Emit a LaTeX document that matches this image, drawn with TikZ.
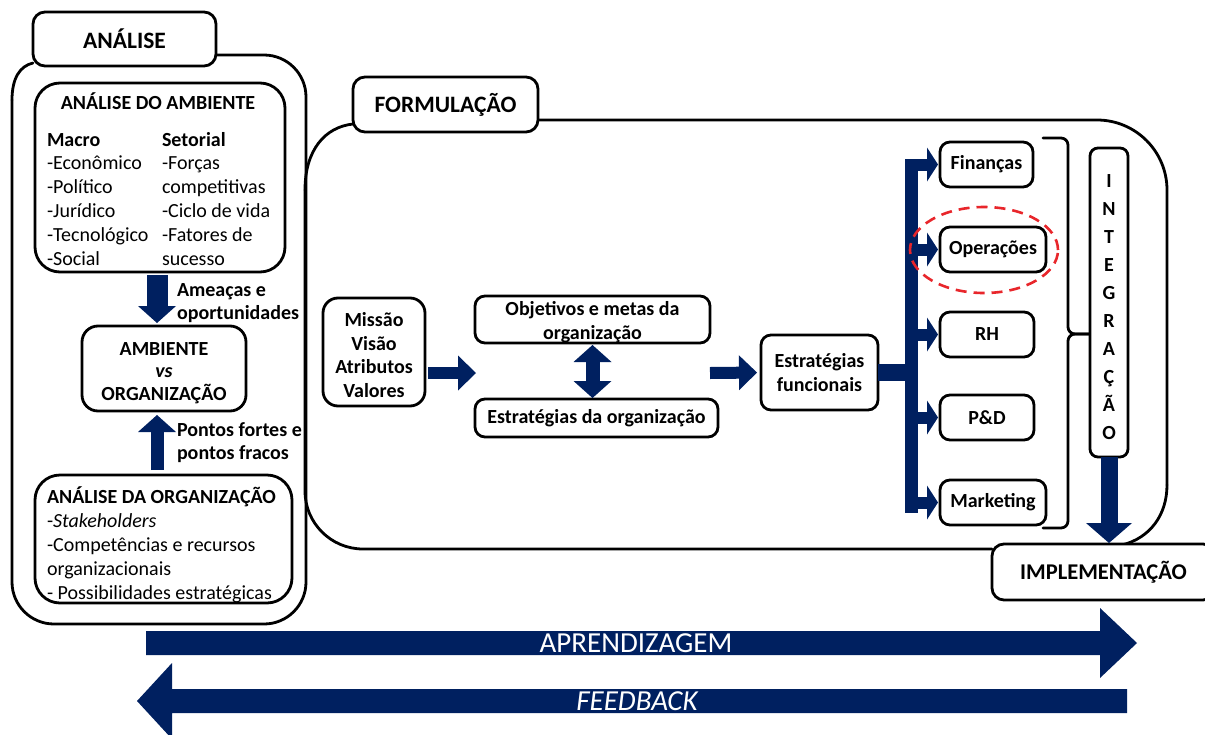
\documentclass[tikz,border=0pt]{standalone}
\usepackage{fontspec}
\setmainfont{Carlito}
\usetikzlibrary{arrows.meta,calc}
\definecolor{navy}{HTML}{002060}
\definecolor{dashred}{HTML}{E8262B}
\newcommand{\tstrut}{\rule{0pt}{16pt}}
\begin{document}
\begin{tikzpicture}[x=1pt,y=-1pt,
  every node/.style={inner sep=0pt, outer sep=0pt},
  frame/.style={line width=2.8pt, line cap=round, line join=round},
  box/.style={draw, fill=white, line width=2.8pt, rounded corners=10pt, align=center,
    font=\bfseries\fontsize{20}{23.5}\selectfont},
  tab/.style={box, rounded corners=12pt, font=\bfseries\fontsize{23.5}{26}\selectfont},
  txt/.style={anchor=north west, align=left, font=\fontsize{20}{23.8}\selectfont},
  btxt/.style={anchor=north west, align=left, font=\bfseries\fontsize{20}{23}\selectfont},
  fatdown/.style={draw=navy, line width=21pt, -{Triangle[width=38pt,length=17pt,line width=0pt]}},
  thinup/.style={draw=navy, line width=13pt, -{Triangle[width=38pt,length=17pt,line width=0pt]}},
  harr/.style={draw=navy, line width=12pt, -{Triangle[width=35pt,length=18pt,line width=0pt]}},
  darr/.style={draw=navy, line width=14pt, {Triangle[width=38pt,length=17pt,line width=0pt]}-{Triangle[width=38pt,length=17pt,line width=0pt]}},
  stub/.style={draw=navy, line width=12pt, -{Triangle[width=34pt,length=11pt,line width=0pt]}},
  iarr/.style={draw=navy, line width=17pt, -{Triangle[width=46pt,length=20pt,line width=0pt]}},
  big/.style={font=\fontsize{29}{30}\selectfont, text=white}
]
\clip (0,0) rectangle (1205,734);
\useasboundingbox (0,0) rectangle (1205,734);

% ---------- containers ----------
\draw[frame, rounded corners=42pt] (216,55) -| (306,624) -| (12,100);
\draw[frame] (12,100) .. controls (12,78) and (20,66) .. (33,63);

\draw[frame, rounded corners=58pt] (992,549) -| (305,190);
\draw[frame] (305,190) .. controls (305,150) and (325,127) .. (353,124);
\draw[frame, rounded corners=70pt] (538,120) -| (1167,485);
\draw[frame] (1167,485) .. controls (1167,515) and (1150,538) .. (1122,545);

% ---------- tabs ----------
\node[tab, minimum width=183, minimum height=54] (tabA) at (124.5,39) {ANÁLISE};
\node[tab, minimum width=185, minimum height=55] (tabF) at (445.5,104.5) {FORMULAÇÃO};
\node[tab, font=\bfseries\fontsize{22.5}{26}\selectfont, minimum width=223, minimum height=56] (impl) at (1103.5,572) {IMPLEMENTAÇÃO};

% ---------- análise ----------
\node[box, rounded corners=25pt, minimum width=250, minimum height=189] (amb) at (160,177.5) {};
\node[anchor=base, font=\bfseries\fontsize{20}{23}\selectfont] (ambt) at (158,109) {ANÁLISE DO AMBIENTE};
\node[txt] (macro) at (47,130) {\tstrut\textbf{Macro}\\-Econômico\\-Político\\-Jurídico\\-Tecnológico\\-Social};
\node[txt] (setor) at (162,130) {\tstrut\textbf{Setorial}\\-Forças\\competitivas\\-Ciclo de vida\\-Fatores de\\sucesso};

\node[box, rounded corners=16pt, minimum width=164, minimum height=85, font=\bfseries\fontsize{20}{22.5}\selectfont] (vs) at (164,368.5) {\rule{0pt}{22pt}AMBIENTE\\\textit{vs}\\ORGANIZAÇÃO};

\node[box, rounded corners=25pt, minimum width=257, minimum height=128] (org) at (163.5,539) {};
\node[txt, font=\fontsize{20}{24}\selectfont] (orgt) at (47,487) {\tstrut\textbf{ANÁLISE DA ORGANIZAÇÃO}\\-\textit{Stakeholders}\\-Competências e recursos\\organizacionais\\- Possibilidades estratégicas};

\coordinate (ax) at (157,0);
\draw[fatdown, shorten <=3pt, shorten >=3pt] (ax |- amb.south) -- (ax |- vs.north);
\draw[thinup, shorten <=5pt, shorten >=4pt] (ax |- org.north) -- (ax |- vs.south);
\node[btxt] (lab1) at (177,280) {\tstrut Ameaças e\\oportunidades};
\node[btxt] (lab2) at (177,420) {\tstrut Pontos fortes e\\pontos fracos};

% ---------- formulação ----------
\node[box, rounded corners=15pt, minimum width=102, minimum height=108] (mvv) at (374,352) {\rule{0pt}{20pt}Missão\\Visão\\Atributos\\Valores};
\node[box, minimum width=235, minimum height=47] (obj) at (592.5,319.5) {\rule{0pt}{19pt}Objetivos e metas da\\organização};
\node[box, minimum width=243, minimum height=38] (estr) at (596.5,418) {Estratégias da organização};
\node[box, minimum width=117, minimum height=75] (ef) at (819.5,372.5) {Estratégias\\funcionais};

\coordinate (gapL) at (476,373);
\coordinate (gapR) at (710,373);
\draw[harr, shorten <=3pt] (mvv.east |- gapL) -- (gapL);
\draw[harr, shorten >=4pt] (gapR) -- (ef.west);
\draw[darr, shorten <=2pt, shorten >=1pt] (obj.south) -- (obj.south |- estr.north);

\node[box, minimum width=93, minimum height=45] (fin) at (986.5,164.5) {Finanças};
\node[box, minimum width=106, minimum height=45] (ope) at (993,249.5) {Operações};
\node[box, minimum width=94, minimum height=45] (rh) at (987,334.5) {RH};
\node[box, minimum width=94, minimum height=45] (pd) at (987,417.5) {P\&D};
\node[box, minimum width=106, minimum height=45] (mkt) at (993,502.5) {Marketing};

\coordinate (bart) at (911.5,159);
\coordinate (barb) at (911.5,513);
\draw[navy, line width=13pt] (bart) -- (barb);
\draw[navy, line width=17pt] (ef.east) -- (ef.east -| bart);
\foreach \b in {fin,ope,rh,pd,mkt}
  \draw[stub, shorten >=2pt] (bart |- \b.west) -- (\b.west);

\draw[dashred, line width=2.6pt, dash pattern=on 11pt off 7pt] (984,250) ellipse [x radius=74pt, y radius=43pt];

% bracket
\draw[frame, rounded corners=7pt] (1043,138) -| (1068,334) -- (1091,334);
\draw[frame, rounded corners=7pt] (1043,528) -| (1068,334) -- (1091,334);

\node[box, rounded corners=8pt, minimum width=38, minimum height=309, font=\bfseries\fontsize{20}{28}\selectfont] (integ) at (1109,302.5) {\rule{0pt}{23pt}I\\N\\T\\E\\G\\R\\A\\Ç\\Ã\\O};
\draw[iarr, shorten >=1pt] (integ.south) -- (integ.south |- impl.north);

% ---------- bottom arrows ----------
\fill[navy] (146,631) -- (1100,631) -- (1100,608) -- (1137,643) -- (1100,678) -- (1100,655) -- (146,655) -- cycle;
\node[big] (apr) at (636,643) {APRENDIZAGEM};
\fill[navy] (1127,689) -- (172,689) -- (172,663) -- (137,701) -- (172,739) -- (172,713) -- (1127,713) -- cycle;
\node[big, font=\itshape\fontsize{29}{30}\selectfont] (fb) at (637,701) {FEEDBACK};
\end{tikzpicture}
\end{document}
